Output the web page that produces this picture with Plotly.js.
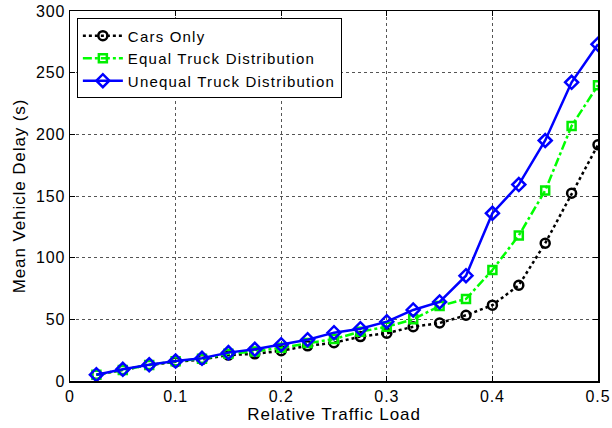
<!DOCTYPE html>
<html>
<head>
<meta charset="utf-8">
<script src="https://cdn.plot.ly/plotly-3.0.1.min.js"></script>
<style>
  html, body { margin: 0; padding: 0; background: #fff; }
  #chart { width: 612px; height: 428px; }
  /* wide Helvetica-style text spacing */
  svg text { letter-spacing: 0.9px; }
  svg text.legendtext { letter-spacing: 1.2px; }
</style>
</head>
<body>
<div id="chart"></div>
<script>
// Relative traffic load (x) and mean vehicle delay in seconds for each scenario
const trafficLoad = [0.025, 0.05, 0.075, 0.1, 0.125, 0.15, 0.175, 0.2, 0.225, 0.25,
                     0.275, 0.3, 0.325, 0.35, 0.375, 0.4, 0.425, 0.45, 0.475, 0.5];
const carsOnly = [5, 9, 13, 15.5, 17.5, 21, 22, 24.5, 28.5, 31,
                  36, 38.7, 44, 47, 53.3, 61.5, 77.6, 111.7, 152.2, 191.5];
const equalTrucks = [5, 9, 13, 16, 18, 22, 24, 27, 30.8, 34,
                     40, 44, 50, 60.8, 66.5, 90, 118, 154.4, 206.8, 239.8];
const unequalTrucks = [5.1, 9.5, 13.2, 16.2, 18.4, 23, 25.7, 29.4, 33.5, 39.2,
                       42.4, 48.1, 57.6, 64.1, 85.4, 136, 159.3, 195, 242.2, 273];

const seriesNames = ['Cars Only', 'Equal Truck Distribution', 'Unequal Truck Distribution'];
const xTicks = [0, 0.1, 0.2, 0.3, 0.4, 0.5];
const xTickText = ['0', '0.1', '0.2', '0.3', '0.4', '0.5'];
const yTicks = [0, 50, 100, 150, 200, 250, 300];

const font = 'Arial, "Liberation Sans", Helvetica, sans-serif';

const traces = [
  {
    x: trafficLoad, y: carsOnly, name: seriesNames[0],
    mode: 'lines+markers', type: 'scatter',
    line: { color: '#000000', width: 2.5, dash: 'dot' },
    marker: { symbol: 'circle-open', size: 9, color: '#000000', line: { width: 2.5, color: '#000000' } }
  },
  {
    x: trafficLoad, y: equalTrucks, name: seriesNames[1],
    mode: 'lines+markers', type: 'scatter',
    line: { color: '#00ff00', width: 2.5, dash: 'dashdot' },
    marker: { symbol: 'square-open', size: 8, color: '#00ee00', line: { width: 2.5, color: '#00ee00' } }
  },
  {
    x: trafficLoad, y: unequalTrucks, name: seriesNames[2],
    mode: 'lines+markers', type: 'scatter',
    line: { color: '#0000ff', width: 2.5 },
    marker: { symbol: 'diamond-open', size: 10, color: '#0000ff', line: { width: 2.5, color: '#0000ff' } }
  }
];

const axisCommon = {
  showline: true, mirror: 'ticks', linecolor: '#000', linewidth: 1.5,
  ticks: 'inside', ticklen: 5, tickcolor: '#000', tickwidth: 1,
  showgrid: true, gridcolor: '#555', griddash: 'dot', gridwidth: 1,
  zeroline: false,
  tickfont: { family: font, size: 16, color: '#000' }
};

const layout = {
  width: 612, height: 428,
  margin: { l: 70, r: 14, t: 11, b: 47 },
  paper_bgcolor: '#fff', plot_bgcolor: '#fff',
  font: { family: font, color: '#000' },
  showlegend: true,
  legend: {
    x: 0.013, y: 0.98, xanchor: 'left', yanchor: 'top',
    bgcolor: '#fff', bordercolor: '#000', borderwidth: 1,
    font: { family: font, size: 15, color: '#000' },
    tracegroupgap: 0, itemwidth: 40
  },
  xaxis: Object.assign({}, axisCommon, {
    range: [0, 0.5], tickvals: xTicks, ticktext: xTickText,
    title: { text: 'Relative Traffic Load', font: { family: font, size: 17, color: '#000' }, standoff: 2 }
  }),
  yaxis: Object.assign({}, axisCommon, {
    range: [0, 300], tickvals: yTicks,
    title: { text: 'Mean Vehicle Delay (s)', font: { family: font, size: 17, color: '#000' }, standoff: 6 }
  })
};

Plotly.newPlot('chart', traces, layout, { displayModeBar: false, staticPlot: true });
</script>
</body>
</html>
